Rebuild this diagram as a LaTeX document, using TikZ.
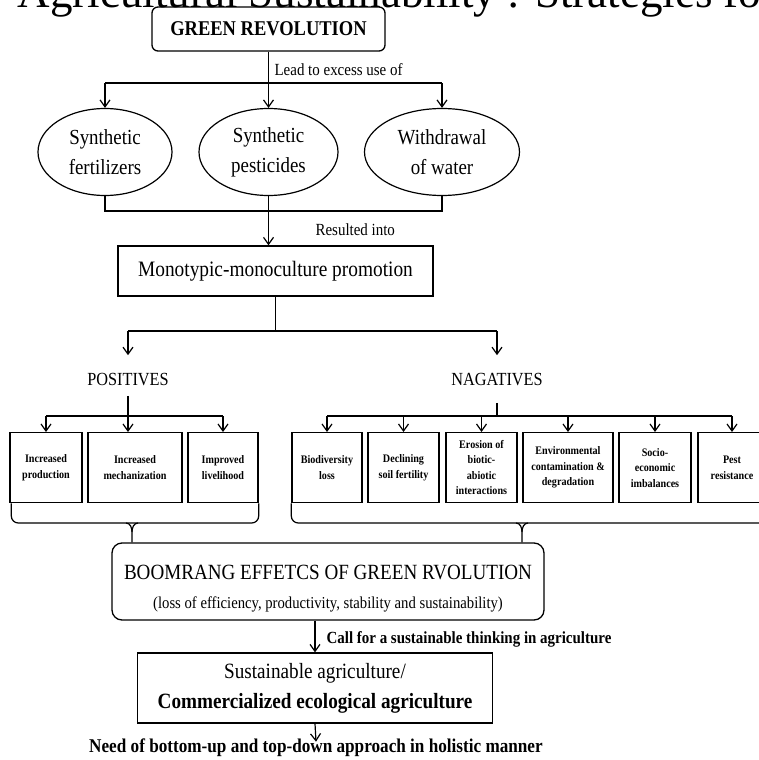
\documentclass[tikz,border=0pt]{standalone}
\usepackage{fontspec}
\setmainfont{Liberation Serif}[FakeStretch=0.88]
\newfontfamily\titlefont{Liberation Serif}
\usetikzlibrary{arrows.meta,shapes.geometric}

\tikzset{
  arr/.style={-{Straight Barb[length=7pt,width=10pt]}},
  rbox/.style={draw,line width=1.3pt,rounded corners=6pt,inner sep=0pt},
  sbox/.style={draw,line width=1.3pt,inner sep=0pt},
  oval/.style={draw,ellipse,line width=1.2pt,inner sep=0pt,minimum height=87pt,align=center,font=\fontsize{21.5}{30}\selectfont},
  small/.style={draw,line width=1.4pt,inner sep=0pt,minimum height=70pt,anchor=north,align=center,font=\fontsize{11.5}{15.5}\selectfont\bfseries},
  lbl/.style={inner sep=0pt,font=\fontsize{17}{20}\selectfont},
}

\begin{document}
\begin{tikzpicture}[x=1pt,y=-1pt,line width=1.2pt]
		\useasboundingbox (0,0) rectangle (759,760);
		\node[anchor=base west,inner sep=0pt,font=\titlefont\fontsize{45}{50}\selectfont] (title) at (17,8) {Agricultural Sustainability : Strategies for};
		
		\node[rbox,minimum width=233pt,minimum height=44pt,font=\fontsize{21}{25}\selectfont\bfseries] (green) at (268.5,29) {GREEN REVOLUTION};
		\node[lbl,anchor=base west] (lead) at (274,75) {Lead to excess use of};
		\node[oval,minimum width=134pt] (fert) at (105,152) {Synthetic\\fertilizers};
		\node[oval,minimum width=139pt] (pest) at (268.5,152) {Synthetic\\pesticides};
		\node[oval,minimum width=155pt] (water) at (442,152) {Withdrawal\\of water};
		\node[lbl,anchor=base west] (res) at (315,235) {Resulted into};
		\node[sbox,minimum width=315pt,minimum height=50pt,font=\fontsize{22}{26}\selectfont] (mono) at (275.5,271) {Monotypic-monoculture promotion};
		\node[inner sep=0pt,anchor=base,font=\fontsize{18.5}{22}\selectfont] (pos) at (128,385) {POSITIVES};
		\node[inner sep=0pt,anchor=base,font=\fontsize{18.5}{22}\selectfont] (neg) at (497,385) {NAGATIVES};
		
		\node[small,minimum width=72pt] (p1) at (46,432) {Increased\\production};
		\node[small,minimum width=94pt] (p2) at (135,432) {Increased\\mechanization};
		\node[small,minimum width=70pt] (p3) at (223,432) {Improved\\livelihood};
		\node[small,minimum width=70pt] (n1) at (327,432) {Biodiversity\\loss};
		\node[small,minimum width=71pt] (n2) at (403.5,432) {Declining\\soil fertility};
		\node[small,minimum width=71pt] (n3) at (481.5,432) {Erosion of\\biotic-\\abiotic\\interactions};
		\node[small,minimum width=90pt] (n4) at (568,432) {Environmental\\contamination \&\\degradation};
		\node[small,minimum width=72pt] (n5) at (655,432) {Socio-\\economic\\imbalances};
		\node[small,minimum width=68pt] (n6) at (732,432) {Pest\\resistance};
		
		\node[rbox,rounded corners=10pt,minimum width=432pt,minimum height=77pt,align=center,font=\fontsize{16.7}{29}\selectfont] (boom) at (328,581.5) {{\fontsize{21.7}{29}\selectfont\rule{0pt}{28pt}BOOMRANG EFFETCS OF GREEN RVOLUTION}\\(loss of efficiency, productivity, stability and sustainability)};
		\node[lbl,anchor=base west,font=\fontsize{17}{20}\selectfont\bfseries] (call) at (326,643) {Call for a sustainable thinking in agriculture};
		\node[sbox,minimum width=355pt,minimum height=70pt,align=center,font=\fontsize{21.8}{30}\selectfont] (sust) at (315,688) {Sustainable agriculture/\\\textbf{Commercialized ecological agriculture}};
		\node[lbl,anchor=base,font=\fontsize{19.5}{22}\selectfont\bfseries] (need) at (316,752) {Need of bottom-up and top-down approach in holistic manner};
		
		\coordinate (split1) at (0,83);
		\coordinate (join1) at (0,211);
		\coordinate (split2) at (0,331);
		\coordinate (pbar) at (0,416);
		\coordinate (brL) at (132,523);
		\coordinate (brR) at (522,523);
		
		% green revolution to the three inputs
		\draw[arr] (green.south) -- (pest.north);
		\draw (fert.north |- split1) -- (water.north |- split1);
		\draw[arr] (fert.north |- split1) -- (fert.north);
		\draw[arr] (water.north |- split1) -- (water.north);
		\draw (fert.south) -- (fert.south |- join1) -- (water.south |- join1) -- (water.south);
		\draw (pest.south) -- (pest.south |- join1);
		\draw[arr] (pest.south |- join1) -- (mono.north -| pest.south);
		
		% positives and negatives
		\draw (mono.south) -- (mono.south |- split2);
		\draw (pos.north |- split2) -- (neg.north |- split2);
		\draw[arr] (pos.north |- split2) -- ([yshift=17pt]pos.north);
		\draw[arr] (neg.north |- split2) -- ([yshift=17pt]neg.north);
		
		\draw ([yshift=-10pt]pos.south) -- (pos.south |- pbar);
		\draw (p1.north |- pbar) -- (p3.north |- pbar);
		\draw[arr] (pos.south |- pbar) -- (pos.south |- p2.north);
		\foreach \b in {p1,p3}{
			\draw[arr] (\b.north |- pbar) -- (\b.north);
		}
		\draw ([yshift=-17pt]neg.south) -- (neg.south |- pbar);
		\draw (n1.north |- pbar) -- (n6.north |- pbar);
		\foreach \b in {n1,n2,n3,n4,n5,n6}{
			\draw[arr] (\b.north |- pbar) -- (\b.north);
		}
		
		% brackets into the boomerang box
		\draw[rounded corners=7pt] ([xshift=2pt]p1.south west) -- ([xshift=2pt]p1.south west |- brL) -- (p3.south east |- brL) -- (p3.south east);
		\draw ([xshift=-6pt]brL) to[out=0,in=90] ([yshift=-9pt]brL) -- (boom.north -| brL);
		\draw ([xshift=6pt]brL) to[out=180,in=90] ([yshift=-9pt]brL);
		\draw[rounded corners=7pt] (n1.south west) -- (n1.south west |- brR) -- ([xshift=4pt]n6.south east |- brR) -- ([xshift=4pt]n6.south east);
		\draw ([xshift=-6pt]brR) to[out=0,in=90] ([yshift=-9pt]brR) -- (boom.north -| brR);
		\draw ([xshift=6pt]brR) to[out=180,in=90] ([yshift=-9pt]brR);
		
		\draw[arr] (boom.south -| sust.north) -- (sust.north);
		\draw[arr] (sust.south) -- ([yshift=-4pt]need.north);
\end{tikzpicture}
\end{document}
